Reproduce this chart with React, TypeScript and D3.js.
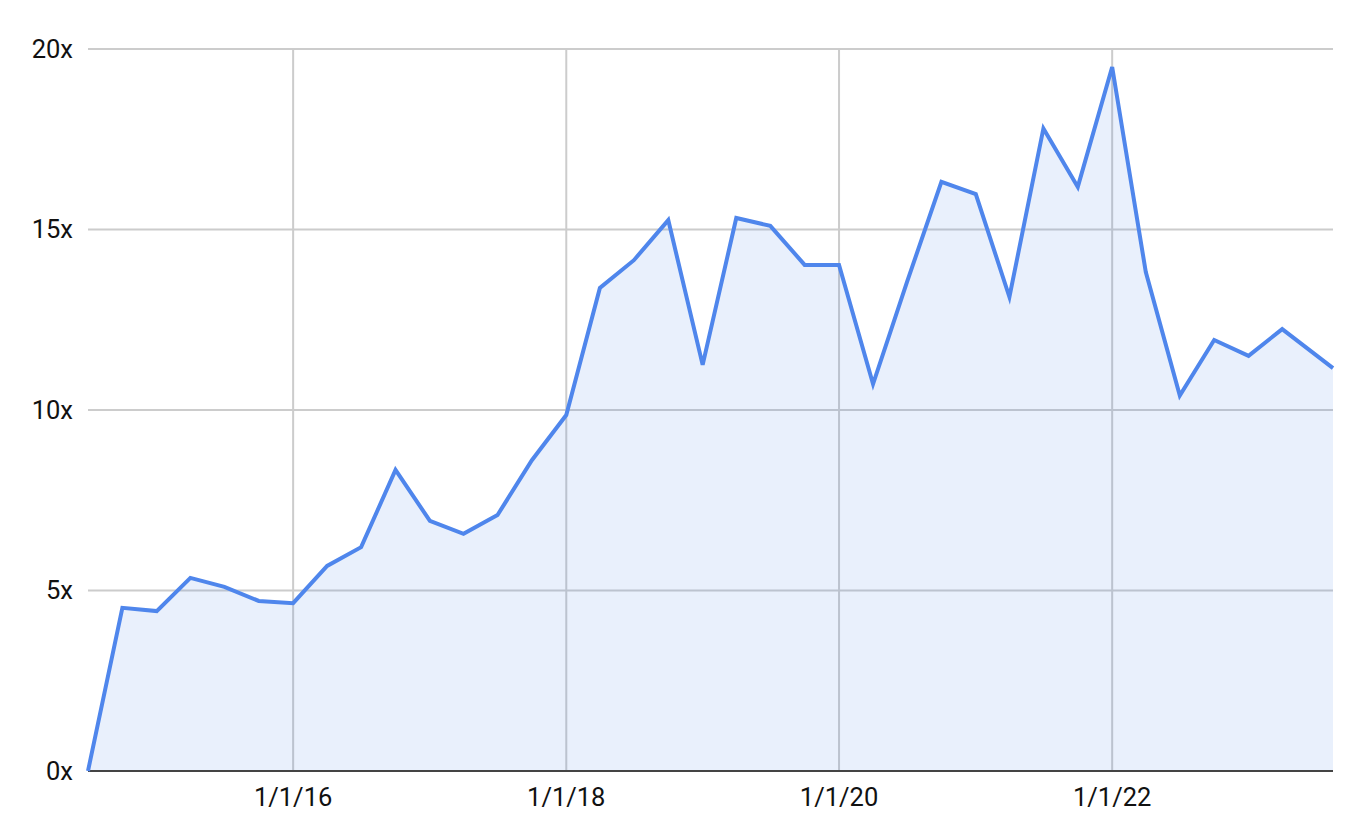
import React, { useRef, useEffect } from 'react';
import * as d3 from 'd3';

const dates = [
  '2014-07-01', '2014-10-01', '2015-01-01', '2015-04-01', '2015-07-01', '2015-10-01',
  '2016-01-01', '2016-04-01', '2016-07-01', '2016-10-01', '2017-01-01', '2017-04-01',
  '2017-07-01', '2017-10-01', '2018-01-01', '2018-04-01', '2018-07-01', '2018-10-01',
  '2019-01-01', '2019-04-01', '2019-07-01', '2019-10-01', '2020-01-01', '2020-04-01',
  '2020-07-01', '2020-10-01', '2021-01-01', '2021-04-01', '2021-07-01', '2021-10-01',
  '2022-01-01', '2022-04-01', '2022-07-01', '2022-10-01', '2023-01-01', '2023-04-01',
  '2023-08-15',
];

const multiples = [
  0, 4.52, 4.43, 5.35, 5.1, 4.71,
  4.65, 5.68, 6.2, 8.34, 6.93, 6.57,
  7.09, 8.61, 9.86, 13.38, 14.15, 15.26,
  11.25, 15.32, 15.1, 14.02, 14.02, 10.72,
  13.55, 16.32, 15.98, 13.13, 17.8, 16.18,
  19.5, 13.82, 10.4, 11.94, 11.5, 12.24,
  11.16,
];

const yTicks = [0, 5, 10, 15, 20];
const xTicks = ['2016-01-01', '2018-01-01', '2020-01-01', '2022-01-01'];

const W = 1364;
const H = 830;

const Chart = ({ width, height }) => {
  const ref = useRef(null);

  useEffect(() => {
    const margin = { top: 49, right: 31, bottom: 59, left: 88 };
    const svg = d3.select(ref.current)
      .attr('width', width)
      .attr('height', height);
    svg.selectAll('*').remove();

    const parse = d3.timeParse('%Y-%m-%d');
    const data = dates.map((d, i) => ({ date: parse(d), value: multiples[i] }));

    const x = d3.scaleTime()
      .domain(d3.extent(data, d => d.date))
      .range([margin.left, width - margin.right]);

    const y = d3.scaleLinear()
      .domain([0, 20])
      .range([height - margin.bottom, margin.top]);

    const font = 'Roboto, "Noto Sans", Arial, sans-serif';

    // horizontal grid
    svg.append('g')
      .selectAll('line')
      .data(yTicks.filter(t => t !== 0))
      .join('line')
        .attr('x1', margin.left)
        .attr('x2', width - margin.right)
        .attr('y1', d => y(d))
        .attr('y2', d => y(d))
        .attr('stroke', '#cccccc')
        .attr('stroke-width', 2);

    // vertical grid
    svg.append('g')
      .selectAll('line')
      .data(xTicks.map(t => parse(t)))
      .join('line')
        .attr('x1', d => x(d))
        .attr('x2', d => x(d))
        .attr('y1', margin.top)
        .attr('y2', height - margin.bottom)
        .attr('stroke', '#cccccc')
        .attr('stroke-width', 2);

    const area = d3.area()
      .x(d => x(d.date))
      .y0(y(0))
      .y1(d => y(d.value));

    const line = d3.line()
      .x(d => x(d.date))
      .y(d => y(d.value));

    svg.append('path')
      .datum(data)
      .attr('d', area)
      .attr('fill', '#4a86e8')
      .attr('fill-opacity', 0.12);

    // baseline
    svg.append('line')
      .attr('x1', margin.left)
      .attr('x2', width - margin.right)
      .attr('y1', y(0))
      .attr('y2', y(0))
      .attr('stroke', '#444444')
      .attr('stroke-width', 2);

    svg.append('path')
      .datum(data)
      .attr('d', line)
      .attr('fill', 'none')
      .attr('stroke', '#4f86ec')
      .attr('stroke-width', 4)
      .attr('stroke-linejoin', 'miter');

    // y labels
    svg.append('g')
      .selectAll('text')
      .data(yTicks)
      .join('text')
        .attr('x', margin.left - 15)
        .attr('y', d => y(d))
        .attr('dy', '0.35em')
        .attr('text-anchor', 'end')
        .attr('font-family', font)
        .attr('font-size', 25.5)
        .attr('fill', '#111')
        .text(d => `${d}x`);

    // x labels
    const fmt = d3.timeFormat('%-m/%-d/%y');
    svg.append('g')
      .selectAll('text')
      .data(xTicks.map(t => parse(t)))
      .join('text')
        .attr('x', d => x(d))
        .attr('y', height - margin.bottom + 35)
        .attr('text-anchor', 'middle')
        .attr('font-family', font)
        .attr('font-size', 25.5)
        .attr('fill', '#111')
        .text(d => fmt(d));
  }, [width, height]);

  return <svg ref={ref} style={{ display: 'block' }} />;
};

export default function App() {
  return (
    <div style={{ position: 'absolute', left: 0, top: 0, width: W, height: H, background: '#fff' }}>
      <Chart width={W} height={H} />
    </div>
  );
}
